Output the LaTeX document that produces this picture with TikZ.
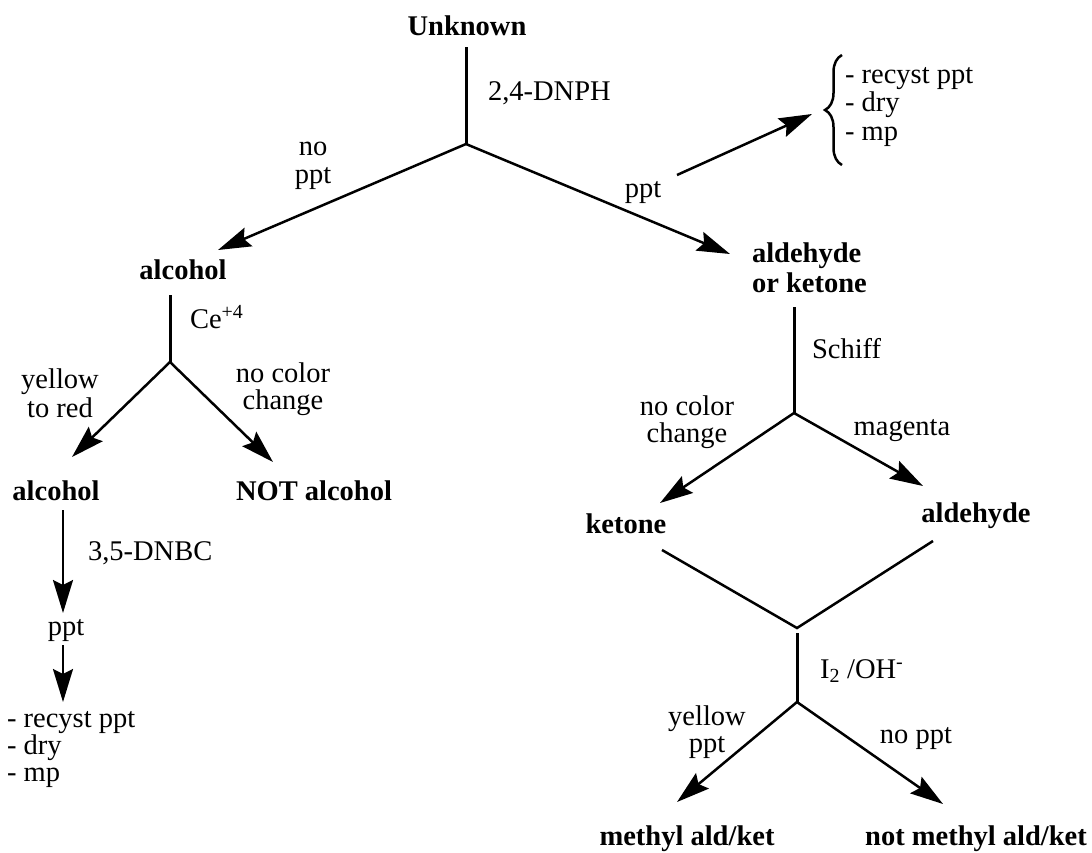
\documentclass[tikz,border=0pt]{standalone}
\usepackage{fontspec}
\setmainfont{Liberation Serif}
\usetikzlibrary{arrows.meta,decorations.pathreplacing}
\newcommand{\mlc}[1]{\begin{tabular}[t]{@{}c@{}}#1\end{tabular}}
\newcommand{\mll}[1]{\begin{tabular}[t]{@{}l@{}}#1\end{tabular}}
\tikzset{
  txt/.style={inner sep=0pt, outer sep=0pt, anchor=base, font=\fontsize{28.5}{28}\selectfont},
  txtw/.style={txt, anchor=base west},
  bld/.style={txt, font=\fontsize{28.5}{30}\selectfont\bfseries},
  stem/.style={line width=3pt},
  arr/.style={line width=2.5pt, -{Stealth[length=33pt,width=20pt,inset=5pt]}},
  diag/.style={line width=2.5pt},
  brc/.style={line width=2.5pt, decorate, decoration={brace, amplitude=17pt}}
}
\begin{document}
\begin{tikzpicture}[x=1pt,y=-1pt]
\useasboundingbox (0,0) rectangle (1092,852);
% text nodes
\node[bld] (unk) at (467,35) {Unknown};
\node[txtw] (dnph) at (488,100) {2,4-DNPH};
\node[txt] (noppt) at (313,155) {\mlc{no\\ppt}};
\node[txt] (ppt1) at (643,197) {ppt};
\node[txtw, font=\fontsize{28.5}{28.5}\selectfont] (list1) at (845,83) {\mll{- recyst ppt\\- dry\\- mp}};
\node[bld] (alc1) at (183,279) {alcohol};
\node[txtw] (ce) at (190,328) {Ce\textsuperscript{+4}};
\node[txt, font=\fontsize{28.5}{29}\selectfont] (ytr) at (60,388) {\mlc{yellow\\to red}};
\node[txt, font=\fontsize{28.5}{26.5}\selectfont] (ncc1) at (283,382) {\mlc{no color\\change}};
\node[bld] (alc2) at (56,500) {alcohol};
\node[bld] (notalc) at (314,500) {NOT alcohol};
\node[txtw] (dnbc) at (88,560) {3,5-DNBC};
\node[txt] (ppt2) at (66,635) {ppt};
\node[txtw, font=\fontsize{28.5}{26.5}\selectfont] (list2) at (7,727) {\mll{- recyst ppt\\- dry\\- mp}};
\node[bld, anchor=base west] (aok) at (752,262) {\mll{aldehyde\\or ketone}};
\node[txtw] (schiff) at (812,358) {Schiff};
\node[txt, font=\fontsize{28.5}{27}\selectfont] (ncc2) at (687,415) {\mlc{no color\\change}};
\node[txt] (mag) at (902,435) {magenta};
\node[bld] (ket) at (626,533) {ketone};
\node[bld] (ald) at (976,522) {aldehyde};
\node[txtw] (iodo) at (820,678) {I\textsubscript{2} /OH\textsuperscript{-}};
\node[txt, font=\fontsize{28.5}{27}\selectfont] (yppt) at (707,725) {\mlc{yellow\\ppt}};
\node[txt] (nppt) at (916,743) {no ppt};
\node[bld] (meth) at (687,845) {methyl ald/ket};
\node[bld] (notmeth) at (976,845) {not methyl ald/ket};
% coordinates
\coordinate (s1) at (466,47);
\coordinate (v1) at (466,144);
\coordinate (t1a) at (218,250);
\coordinate (t1b) at (730,254);
\coordinate (b0) at (677,175);
\coordinate (b1) at (812,114);
\coordinate (br1) at (842,165);
\coordinate (br2) at (842,55);
\coordinate (s2) at (170,295);
\coordinate (v2) at (170,362);
\coordinate (t2a) at (72,457);
\coordinate (t2b) at (273,462);
\coordinate (s3) at (63,510);
\coordinate (t3) at (63,613);
\coordinate (s4) at (63,645);
\coordinate (t4) at (63,702);
\coordinate (s5) at (794,307);
\coordinate (v5) at (794,413);
\coordinate (t5a) at (660,503);
\coordinate (t5b) at (923,486);
\coordinate (k0) at (662,550);
\coordinate (v6) at (797,628);
\coordinate (a0) at (933,541);
\coordinate (s7) at (797,633);
\coordinate (v7) at (797,702);
\coordinate (t7a) at (677,802);
\coordinate (t7b) at (943,804);
% connectors
\draw[stem] (s1) -- (v1);
\draw[arr] (v1) -- (t1a);
\draw[arr] (v1) -- (t1b);
\draw[arr] (b0) -- (b1);
\draw[brc] (br1) -- (br2);
\draw[stem] (s2) -- (v2);
\draw[arr] (v2) -- (t2a);
\draw[arr] (v2) -- (t2b);
\draw[arr] (s3) -- (t3);
\draw[arr] (s4) -- (t4);
\draw[stem] (s5) -- (v5);
\draw[arr] (v5) -- (t5a);
\draw[arr] (v5) -- (t5b);
\draw[diag] (k0) -- (v6) -- (a0);
\draw[stem] (s7) -- (v7);
\draw[arr] (v7) -- (t7a);
\draw[arr] (v7) -- (t7b);
\end{tikzpicture}
\end{document}
